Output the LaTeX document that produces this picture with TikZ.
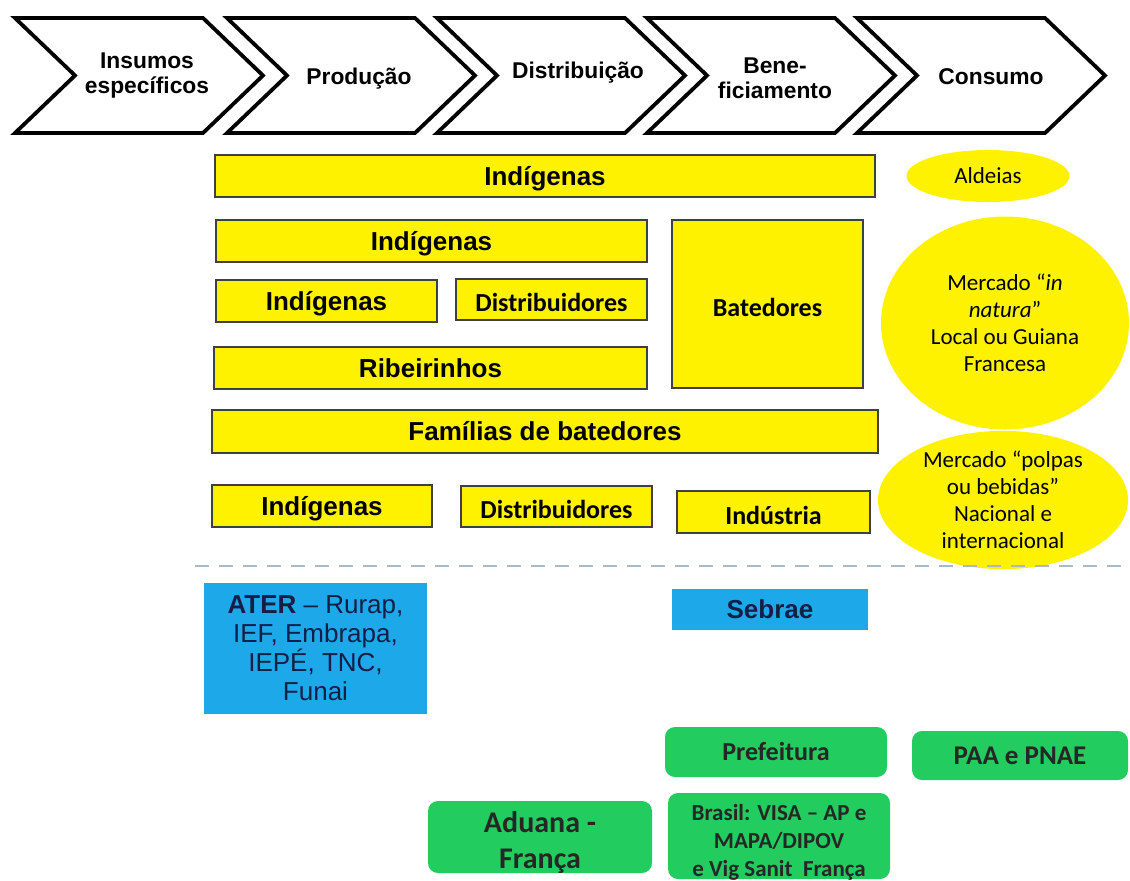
\documentclass[tikz,border=0pt]{standalone}
\usepackage{fontspec}
\setmainfont{Liberation Sans}
\newfontfamily\calibri{Carlito}
\usetikzlibrary{shapes.geometric}
\definecolor{grn}{RGB}{34,204,94}
\definecolor{ateblue}{RGB}{29,168,234}
\definecolor{navytext}{RGB}{20,30,70}
\definecolor{dashgray}{RGB}{170,185,200}
\begin{document}
\begin{tikzpicture}[x=0.5pt, y=-0.5pt,
  chev/.style={line width=1.9pt, line join=miter},
  chevtext/.style={font=\bfseries\fontsize{11.4}{12.5}\selectfont, align=center},
  ybox/.style={draw=black!75, fill=yellow, line width=0.7pt, inner sep=0pt, minimum height=21pt,
    font=\bfseries\fontsize{13}{15}\selectfont, text height=9.3pt, text depth=0pt},
  ycbox/.style={ybox, font=\calibri\bfseries\fontsize{13}{15}\selectfont, text height=12.2pt},
  yell/.style={ellipse, fill=yellow, inner sep=0pt, align=center, font=\calibri\fontsize{11.5}{13.5}\selectfont},
  bbox/.style={fill=ateblue, inner sep=0pt, text=navytext, align=center},
  gbox/.style={fill=grn, rounded corners=5pt, inner sep=0pt, align=center, text=black!85},
  gtext/.style={align=center, text=black!85, inner sep=0pt}]
\fill [white] (0,0) rectangle (1130,880);
\useasboundingbox (0,0) rectangle (1130,880);

\foreach \x in {15,227,437,647,857}
  \draw [chev] (\x,18) -- ++(188,0) -- ++(60,57.5) -- ++(-60,57.5) -- ++(-188,0) -- ++(60,-57.5) -- cycle;

\node (insumos) at (147,76) [chevtext] {Insumos\\específicos};
\node (producao) at (359,79) [chevtext] {Produção};
\node (distrib) at (578,73) [chevtext] {Distribuição};
\node (benef) at (775,78) [chevtext] {Bene-\\ficiamento};
\node (consumo) at (991,77) [chevtext] {Consumo};

\node (ind1) at (545,176) [ybox, minimum width=330pt] {Indígenas};
\node (ind2) at (431.5,241) [ybox, minimum width=215.5pt] {Indígenas};
\node (ind3) at (326.5,301) [ybox, minimum width=110.5pt] {Indígenas};
\node (dist1) at (551.5,299.5) [ycbox, minimum width=95.5pt, minimum height=20.5pt] {Distribuidores};
\node (ribeir) at (430.5,368) [ybox, minimum width=216.5pt] {Ribeirinhos};
\node (batedores) at (767.5,304) [ycbox, minimum width=95.5pt, minimum height=84pt] {Batedores};
\node (familias) at (545,431.5) [ybox, minimum width=333pt, minimum height=21.5pt] {Famílias de batedores};
\node (ind4) at (322,506) [ybox, minimum width=110pt] {Indígenas};
\node (dist2) at (556.5,506.5) [ycbox, minimum width=95.5pt, minimum height=20.5pt] {Distribuidores};
\node (industria) at (773.5,512) [ycbox, minimum width=96.5pt] {Indústria};

\node (aldeias) at (988,176) [yell, minimum width=81.5pt, minimum height=26pt] {Aldeias};
\node (natura) at (1005,323) [yell, minimum width=124pt, minimum height=106.5pt]
  {Mercado “\textit{in}\\\textit{natura}”\\Local ou Guiana\\Francesa};
\node (polpas) at (1003,500) [yell, minimum width=125pt, minimum height=67pt]
  {Mercado “polpas\\ou bebidas”\\Nacional e\\internacional};

\draw [dashgray, line width=1pt, dash pattern=on 7pt off 5pt] (195,566) -- (1128,566);

\node (ater) at (315.5,648.5) [bbox, minimum width=111.5pt, minimum height=65.5pt,
  font=\fontsize{13}{14.5}\selectfont] {\textbf{ATER} – Rurap,\\IEF, Embrapa,\\IEPÉ, TNC,\\Funai};
\node (sebrae) at (770,609.5) [bbox, minimum width=98pt, minimum height=20.5pt,
  font=\bfseries\fontsize{13}{15}\selectfont, text height=9.3pt, text depth=0pt] {Sebrae};

\node (prefeitura) at (776,752) [gbox, minimum width=111pt, minimum height=25pt,
  font=\calibri\bfseries\fontsize{13}{15}\selectfont, text height=8.4pt, text depth=0pt] {Prefeitura};
\node (paa) at (1020,755.5) [gbox, minimum width=108pt, minimum height=24.5pt,
  font=\calibri\bfseries\fontsize{13.5}{15}\selectfont, text height=8.7pt, text depth=0pt] {PAA e PNAE};
\node (visa) at (779,836) [gbox, minimum width=111pt, minimum height=43pt] {};
\node (visatext) at (779,842) [gtext, font=\calibri\bfseries\fontsize{11.5}{14}\selectfont]
  {Brasil: VISA – AP e\\MAPA/DIPOV\\e Vig Sanit\ \ França};
\node (aduana) at (540,837) [gbox, minimum width=112pt, minimum height=36pt] {};
\node (aduanatext) at (540,842) [gtext, font=\calibri\bfseries\fontsize{15}{18}\selectfont]
  {Aduana -\\França};
\end{tikzpicture}
\end{document}
